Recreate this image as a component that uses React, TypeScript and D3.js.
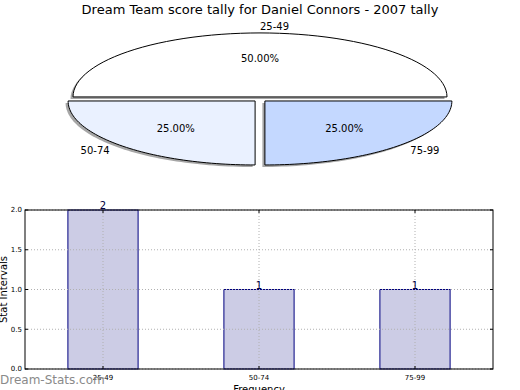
import React from "react";
import * as d3 from "d3";

const categories = ["25-49", "50-74", "75-99"];
const counts = [2, 1, 1];
const yTicks = [0, 0.5, 1.0, 1.5, 2.0];
const pieColors = ["#ffffff", "#eaf1ff", "#c4d8ff"];

const W = 520, H = 390;
const font = "DejaVu Sans, sans-serif";

export default function App() {
  // pie geometry (ellipse)
  const cx = 260, cy = 99.3, rx = 187, ry = 64;
  const explode = 0.037;
  const total = d3.sum(counts);
  let acc = 0;
  const wedges = counts.map((v, i) => {
    const a0 = (acc / total) * 2 * Math.PI;
    acc += v;
    const a1 = (acc / total) * 2 * Math.PI;
    return { i, v, a0, a1 };
  });
  const wedgePath = (a0: number, a1: number, ox: number, oy: number) => {
    const n = 60;
    const pts: [number, number][] = [[ox, oy]];
    for (let k = 0; k <= n; k++) {
      const a = a0 + ((a1 - a0) * k) / n;
      pts.push([ox + rx * Math.cos(a), oy - ry * Math.sin(a)]);
    }
    return d3.line()(pts) + "Z";
  };

  // bar geometry
  const left = 25, right = 493, top = 210, bottom = 369;
  const x = d3.scaleLinear().domain([-0.5, 2.5]).range([left, right]);
  const y = d3.scaleLinear().domain([0, 2]).range([bottom, top]);
  const bw = 0.45;

  const centerOf = (w: { a0: number; a1: number }) => {
    const mid = (w.a0 + w.a1) / 2;
    return {
      mid,
      ox: cx + explode * rx * Math.cos(mid),
      oy: cy - explode * ry * Math.sin(mid),
    };
  };

  return (
    <svg width={W} height={H} style={{ position: "absolute", left: 0, top: 0 }} fontFamily={font}>
      <rect width={W} height={H} fill="#fff" />
      <text x={260} y={14} textAnchor="middle" fontSize={13} fill="#000">
        Dream Team score tally for Daniel Connors - 2007 tally
      </text>
      {wedges.map((w) => {
        const { ox, oy } = centerOf(w);
        return (
          <path key={"s" + w.i} d={wedgePath(w.a0, w.a1, ox - 2.5, oy + 2)} fill="#808080" opacity={0.7} />
        );
      })}
      {wedges.map((w) => {
        const { ox, oy } = centerOf(w);
        return (
          <path key={"w" + w.i} d={wedgePath(w.a0, w.a1, ox, oy)} fill={pieColors[w.i]} stroke="#000" strokeWidth={1} strokeLinejoin="miter" />
        );
      })}
      {wedges.map((w) => {
        const { mid, ox, oy } = centerOf(w);
        const px = ox + 0.6 * rx * Math.cos(mid);
        const py = oy - 0.6 * ry * Math.sin(mid);
        const cosM = Math.cos(mid);
        const lx = ox + 1.1 * rx * cosM;
        const ly = oy - 1.1 * ry * Math.sin(mid);
        const anchor = cosM > 1e-9 ? "start" : cosM < -1e-9 ? "end" : "middle";
        const anchorTop = Math.abs(cosM) < 1e-9 ? "start" : anchor;
        const pct = ((w.v / total) * 100).toFixed(2) + "%";
        return (
          <g key={"t" + w.i} fontSize={10} fill="#000">
            <text x={px} y={py} textAnchor="middle" dy="0.35em">{pct}</text>
            <text x={lx} y={ly} textAnchor={anchorTop} dy="0.35em">{categories[w.i]}</text>
          </g>
        );
      })}

      {/* bar chart */}
      <g>
        {counts.map((v, i) => (
          <rect key={"b" + i} x={x(i - bw / 2)} y={y(v)} width={x(bw) - x(0)} height={y(0) - y(v)}
            fill="#ccccE5" stroke="#000080" strokeWidth={1} />
        ))}
        {yTicks.map((t) => (
          <line key={"gy" + t} x1={left} x2={right} y1={y(t)} y2={y(t)} stroke="#b0b0b0" strokeDasharray="1,2" />
        ))}
        {categories.map((c, i) => (
          <line key={"gx" + i} x1={x(i)} x2={x(i)} y1={top} y2={bottom} stroke="#b0b0b0" strokeDasharray="1,2" />
        ))}
        <rect x={left} y={top} width={right - left} height={bottom - top} fill="none" stroke="#000" strokeWidth={1} />
        {yTicks.map((t) => (
          <g key={"yt" + t}>
            <line x1={left} x2={left + 3} y1={y(t)} y2={y(t)} stroke="#000" />
            <line x1={right} x2={right - 3} y1={y(t)} y2={y(t)} stroke="#000" />
            <text x={left - 3} y={y(t)} dy="0.35em" textAnchor="end" fontSize={7} fill="#000">{t.toFixed(1)}</text>
          </g>
        ))}
        {categories.map((c, i) => (
          <g key={"xt" + i}>
            <line x1={x(i)} x2={x(i)} y1={bottom} y2={bottom - 3} stroke="#000" />
            <line x1={x(i)} x2={x(i)} y1={top} y2={top + 3} stroke="#000" />
            <text x={x(i)} y={380} textAnchor="middle" fontSize={7} fill="#000">{c}</text>
          </g>
        ))}
        {counts.map((v, i) => (
          <text key={"v" + i} x={x(i)} y={y(v) - 1} textAnchor="middle" fontSize={10} fill="#000040">{v}</text>
        ))}
        <text transform={`translate(7,${(top + bottom) / 2}) rotate(-90)`} textAnchor="middle" fontSize={10} fill="#000">Stat Intervals</text>
        <text x={(left + right) / 2} y={393} textAnchor="middle" fontSize={10} fill="#000">Frequency</text>
        <text x={0} y={384} fontSize={12} fill="#8a8a8a">Dream-Stats.com</text>
      </g>
    </svg>
  );
}
